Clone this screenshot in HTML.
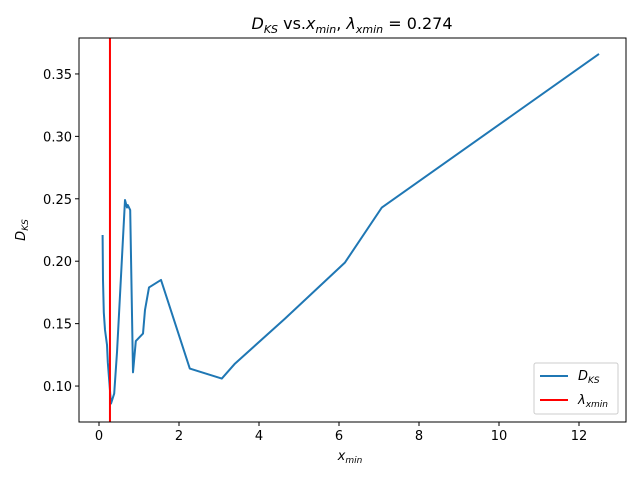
<!DOCTYPE html>
<html><head><meta charset="utf-8"><style>
body{margin:0;background:#fff;font-family:"Liberation Sans","DejaVu Sans",sans-serif}
text{font-family:"DejaVu Sans","Liberation Sans",sans-serif;font-size:13px;fill:#000}
</style></head><body>
<svg id="chart" width="640" height="480" xmlns="http://www.w3.org/2000/svg">
<text x="352" y="29" text-anchor="middle" style="font-size:16px"><tspan font-style="italic">D</tspan><tspan font-style="italic" font-size="11" dy="4">KS</tspan><tspan dy="-4"> vs.</tspan><tspan font-style="italic">x</tspan><tspan font-style="italic" font-size="11" dy="4">min</tspan><tspan dy="-4">, </tspan><tspan font-style="italic">λ</tspan><tspan font-style="italic" font-size="11" dy="4">xmin</tspan><tspan dy="-4"> = 0.274</tspan></text>
<g id="axes"></g>
<text x="350" y="460" text-anchor="middle" style="font-size:13px;font-style:italic">x<tspan font-size="9" dy="3">min</tspan></text>
<text transform="translate(25,230) rotate(-90)" text-anchor="middle" style="font-size:13px;font-style:italic">D<tspan font-size="9" dy="3">KS</tspan></text>
<g>
<rect x="534" y="363" width="84" height="51" rx="2" fill="#fff" stroke="#ccc"/>
<line x1="540" y1="376" x2="568" y2="376" stroke="#1f77b4" stroke-width="2"/>
<text x="578" y="380" style="font-style:italic;font-size:13px">D<tspan font-size="9" dy="3">KS</tspan></text>
<line x1="540" y1="400" x2="568" y2="400" stroke="#ff0000" stroke-width="2"/>
<text x="578" y="404" style="font-style:italic;font-size:13px">λ<tspan font-size="9" dy="3">xmin</tspan></text>
</g>
</svg>
<script>
const xs=[0.09,0.1,0.12,0.15,0.2,0.22,0.3,0.38,0.45,0.65,0.7,0.72,0.78,0.85,0.92,1.1,1.15,1.25,1.55,2.27,3.07,3.4,4.65,6.15,7.07,12.5];
const ys=[0.221,0.185,0.159,0.145,0.133,0.119,0.086,0.094,0.127,0.249,0.243,0.245,0.241,0.111,0.136,0.142,0.161,0.179,0.185,0.114,0.106,0.118,0.154,0.199,0.243,0.366];
const lambdaX=0.274;
const xTicks=[0,2,4,6,8,10,12];
const yTicks=[0.10,0.15,0.20,0.25,0.30,0.35];
const L=79,R=626,T=38,B=422,x0=-0.5,x1=13.175,y0=0.0712,y1=0.3788;
const sx=v=>L+(v-x0)/(x1-x0)*(R-L), sy=v=>B-(v-y0)/(y1-y0)*(B-T);
const NS="http://www.w3.org/2000/svg", g=document.getElementById('axes');
function mk(t,a){const e=document.createElementNS(NS,t);for(const k in a)e.setAttribute(k,a[k]);g.appendChild(e);return e;}
xTicks.forEach(v=>{mk('line',{x1:sx(v),x2:sx(v),y1:B,y2:B+4,stroke:'#000'});
const t=mk('text',{x:sx(v),y:B+18,'text-anchor':'middle'});t.textContent=v;

});
yTicks.forEach(v=>{mk('line',{x1:L-4,x2:L,y1:sy(v),y2:sy(v),stroke:'#000'});
const t=mk('text',{x:L-7,y:sy(v)+5,'text-anchor':'end'});t.textContent=v.toFixed(2);

});
const p=mk('polyline',{points:xs.map((v,i)=>sx(v)+','+sy(ys[i])).join(' '),fill:'none',stroke:'#1f77b4','stroke-width':2,'stroke-linejoin':'round'});


const r=mk('line',{x1:sx(lambdaX),x2:sx(lambdaX),y1:T,y2:B,stroke:'#ff0000','stroke-width':2});


const f=mk('rect',{x:L,y:T,width:R-L,height:B-T,fill:'none',stroke:'#000','stroke-width':1});


</script>
</body></html>
